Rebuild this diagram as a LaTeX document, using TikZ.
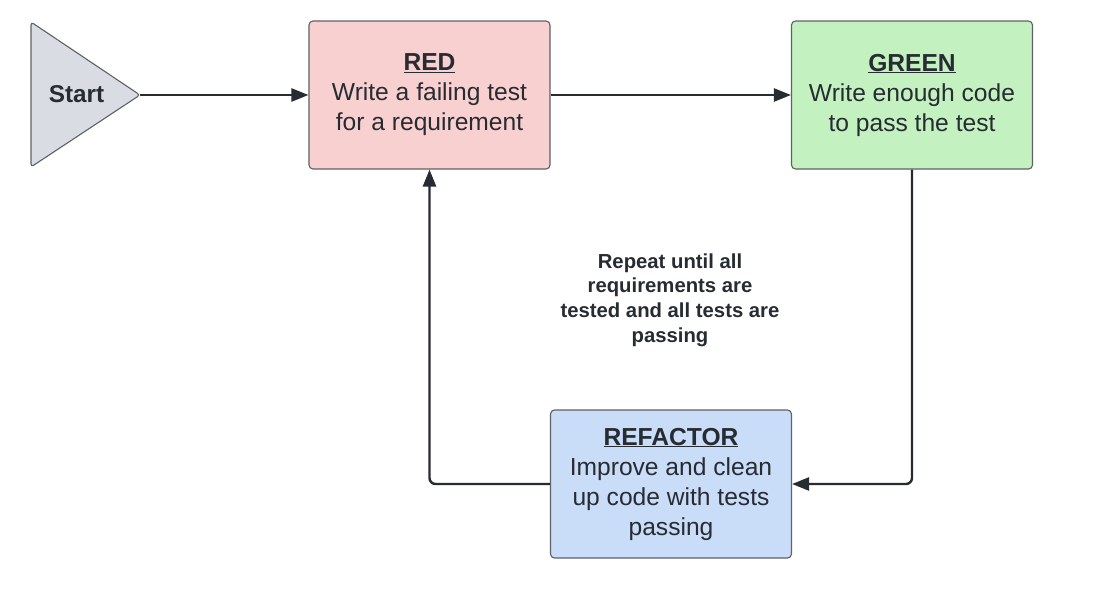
\documentclass[tikz,border=0pt]{standalone}
\usepackage{fontspec}
\setmainfont{Liberation Sans}
\usetikzlibrary{arrows.meta}
\definecolor{ink}{HTML}{272B32}
\definecolor{edge}{HTML}{5F6166}
\definecolor{startfill}{HTML}{D9DCE3}
\definecolor{redfill}{HTML}{F8D0D0}
\definecolor{greenfill}{HTML}{C3F1C0}
\definecolor{bluefill}{HTML}{C9DCF8}
\begin{document}
\begin{tikzpicture}[x=1pt,y=-1pt,
  stage/.style={draw=edge,line width=1.1pt,rounded corners=4pt,minimum width=241pt,minimum height=148pt,
    align=center,text=ink,font=\fontsize{24.6}{30}\selectfont},
  flow/.style={draw=ink,line width=2.4pt,rounded corners=6pt,-{Triangle[length=17pt,width=13pt]}}]
\useasboundingbox(0,0)rectangle(1106,598);
% start marker
\draw[fill=startfill,draw=edge,line width=1.1pt,rounded corners=3pt](31,22)--(140,95)--(31,167)--cycle;
\node[text=ink,font=\fontsize{24.3}{28}\selectfont\bfseries](start)at(76.5,94){Start};
\coordinate(startTip)at(140,95);
% the three stages
\node[stage,fill=redfill](red)at(429.5,95){\textbf{\underline{RED}}\\Write a failing test\\for a requirement};
\node[stage,fill=greenfill](green)at(912,95){\textbf{\underline{GREEN}}\\Write enough code\\to pass the test};
\node[stage,fill=bluefill](refactor)at(671,484){\textbf{\underline{REFACTOR}}\\Improve and clean\\up code with tests\\passing};
\node[align=center,text=ink,font=\fontsize{20.3}{24.7}\selectfont\bfseries](repeat)at(670,300){Repeat until all\\requirements are\\tested and all tests are\\passing};
% connectors
\draw[flow](startTip)--(red.west);
\draw[flow](red.east)--(green.west);
\draw[flow](green.south)|-(refactor.east);
\draw[flow](refactor.west)-|(red.south);
\end{tikzpicture}
\end{document}
